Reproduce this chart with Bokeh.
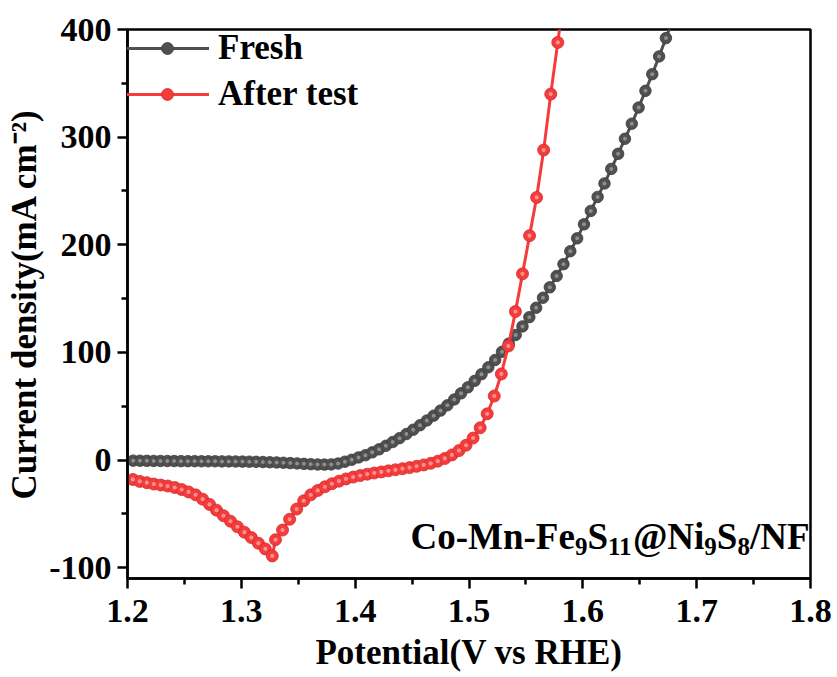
from bokeh.plotting import figure
from bokeh.models import (ColumnDataSource, FixedTicker, Legend, LegendItem, Range1d)
from bokeh.core.properties import value
from bokeh.embed import file_html
from bokeh.resources import INLINE

# LSV data: potential (V vs RHE) and current density (mA cm^-2)
potential_fresh = [
    1.205, 1.211, 1.217, 1.223, 1.229, 1.235, 1.241, 1.247, 1.253, 1.259,
    1.265, 1.271, 1.277, 1.283, 1.289, 1.295, 1.301, 1.307, 1.313, 1.319,
    1.325, 1.331, 1.337, 1.343, 1.349, 1.355, 1.361, 1.367, 1.373, 1.379,
    1.385, 1.391, 1.397, 1.403, 1.409, 1.415, 1.421, 1.427, 1.433, 1.439,
    1.445, 1.451, 1.457, 1.463, 1.469, 1.475, 1.481, 1.487, 1.493, 1.499,
    1.505, 1.511, 1.517, 1.523, 1.529, 1.535, 1.541, 1.547, 1.553, 1.559,
    1.565, 1.571, 1.577, 1.583, 1.589, 1.595, 1.601, 1.607, 1.613, 1.619,
    1.625, 1.631, 1.637, 1.643, 1.649, 1.655, 1.661, 1.667, 1.673, 1.679,
]
current_fresh = [
    -0.5, -0.6, -0.7, -0.8, -0.8, -0.9, -0.9, -1.0, -1.0, -1.0,
    -1.1, -1.1, -1.1, -1.2, -1.2, -1.3, -1.4, -1.5, -1.6, -1.8,
    -2.0, -2.2, -2.5, -2.8, -3.1, -3.5, -3.8, -4.1, -4.2, -4.0,
    -3.2, -1.5, 0.3, 2.5, 4.5, 7.2, 10.0, 13.3, 16.8, 20.4,
    24.2, 28.2, 32.4, 36.8, 41.3, 46.0, 50.9, 56.3, 62.0, 67.6,
    73.6, 79.8, 86.2, 93.0, 100.6, 108.2, 116.2, 124.2, 132.8, 141.5,
    150.8, 160.5, 171.0, 182.0, 194.0, 206.0, 219.0, 231.5, 244.5, 257.0,
    270.5, 284.5, 298.5, 312.5, 327.5, 343.0, 358.5, 375.0, 392.0, 409.0,
]

potential_after = [
    1.2047, 1.2108, 1.2170, 1.2231, 1.2292, 1.2353, 1.2415, 1.2476, 1.2537, 1.2598,
    1.2660, 1.2721, 1.2782, 1.2843, 1.2905, 1.2966, 1.3027, 1.3088, 1.3150, 1.3211,
    1.3272, 1.3300, 1.3362, 1.3424, 1.3486, 1.3548, 1.3610, 1.3672, 1.3734, 1.3796,
    1.3858, 1.3920, 1.3982, 1.4044, 1.4106, 1.4168, 1.4230, 1.4292, 1.4354, 1.4416,
    1.4478, 1.4540, 1.4602, 1.4664, 1.4726, 1.4788, 1.4850, 1.4912, 1.4974, 1.5036,
    1.5098, 1.5160, 1.5222, 1.5284, 1.5346, 1.5408, 1.5470, 1.5532, 1.5594, 1.5656,
    1.5718, 1.5780, 1.5842,
]
current_after = [
    -18.0, -19.8, -21.0, -22.3, -23.2, -24.1, -25.5, -27.4, -29.6, -32.3,
    -36.3, -41.2, -46.5, -51.7, -56.8, -62.0, -67.0, -72.0, -77.2, -82.5,
    -89.0, -74.0, -65.0, -55.0, -45.5, -37.8, -32.3, -28.2, -24.8, -22.0,
    -19.6, -17.5, -15.8, -14.4, -13.1, -12.0, -11.0, -10.0, -9.0, -8.0,
    -7.0, -5.8, -4.5, -3.0, -1.0, 1.5, 4.8, 8.8, 13.8, 20.5,
    30.0, 43.0, 59.5, 80.0, 106.0, 138.0, 173.0, 208.5, 244.0, 288.0,
    340.0, 388.0, 440.0,
]

series_labels = ["Fresh", "After test"]

x_ticks = [1.2, 1.3, 1.4, 1.5, 1.6, 1.7, 1.8]
x_tick_labels = ["1.2", "1.3", "1.4", "1.5", "1.6", "1.7", "1.8"]
x_minor = [1.25, 1.35, 1.45, 1.55, 1.65, 1.75]
y_ticks = [-100, 0, 100, 200, 300, 400]
y_tick_labels = ["-100", "0", "100", "200", "300", "400"]
y_minor = [-50, 50, 150, 250, 350]

# sample name, split into normal / subscript runs
name_runs = ["Co-Mn-Fe", "9", "S", "11", "@Ni", "9", "S", "8", "/NF"]
name_is_sub = [False, True, False, True, False, True, False, True, False]

SERIF = "Liberation Serif"
GRAY, GRAY_EDGE, GRAY_HI = "#505050", "#3a3a3a", "#8e8e8e"
RED, RED_EDGE, RED_HI = "#f43c3c", "#d62a2a", "#ff8f8f"

p = figure(width=837, height=677, x_range=Range1d(1.2, 1.8), y_range=Range1d(-110, 400),
           output_backend="svg", toolbar_location=None,
           min_border_left=127, min_border_right=27, min_border_top=29, min_border_bottom=99)
p.xgrid.visible = False
p.ygrid.visible = False
p.outline_line_color = "black"
p.outline_line_width = 2.5
p.background_fill_color = "white"
p.border_fill_color = "white"

fresh_src = ColumnDataSource(dict(x=potential_fresh, y=current_fresh))
after_src = ColumnDataSource(dict(x=potential_after, y=current_after))

gl = p.line("x", "y", source=fresh_src, line_color=GRAY, line_width=3)
gs = p.scatter("x", "y", source=fresh_src, size=11.5, fill_color=GRAY,
               line_color=GRAY_EDGE, line_width=0.8)
p.scatter("x", "y", source=fresh_src, size=4, fill_color=GRAY_HI, line_color=None)

rl = p.line("x", "y", source=after_src, line_color=RED, line_width=3)
rs = p.scatter("x", "y", source=after_src, size=12, fill_color=RED,
               line_color=RED_EDGE, line_width=0.8)
p.scatter("x", "y", source=after_src, size=4.2, fill_color=RED_HI, line_color=None)

# axes
for ax in (p.xaxis, p.yaxis):
    ax.axis_line_width = 2.5
    ax.major_tick_line_width = 2.5
    ax.minor_tick_line_width = 2.5
    ax.major_tick_out = 10
    ax.major_tick_in = 0
    ax.minor_tick_out = 6
    ax.minor_tick_in = 0
    ax.major_label_text_font = SERIF
    ax.major_label_text_font_style = "bold"
    ax.major_label_text_font_size = "34px"
    ax.major_label_text_color = "black"
    ax.axis_label_text_font = SERIF
    ax.axis_label_text_font_style = "bold"
    ax.axis_label_text_font_size = "35px"
    ax.axis_label_text_color = "black"

p.xaxis.ticker = FixedTicker(ticks=x_ticks, minor_ticks=x_minor)
p.xaxis.major_label_overrides = dict(zip(x_ticks, x_tick_labels))
p.yaxis.ticker = FixedTicker(ticks=y_ticks, minor_ticks=y_minor)
p.yaxis.major_label_overrides = dict(zip(y_ticks, y_tick_labels))
p.xaxis.axis_label = "Potential(V vs RHE)"
p.yaxis.axis_label = "Current density(mA cm\u207b\u00b2)"
p.xaxis.major_label_standoff = 11
p.yaxis.major_label_standoff = 6
p.xaxis.axis_label_standoff = 8
p.yaxis.axis_label_standoff = 2

# legend
legend = Legend(items=[LegendItem(label=series_labels[0], renderers=[gl, gs]),
                       LegendItem(label=series_labels[1], renderers=[rl, rs])],
                location=(-2, 464), glyph_width=84, glyph_height=30, label_height=39,
                spacing=6, label_standoff=9, padding=0, margin=0,
                border_line_alpha=0, background_fill_alpha=0,
                label_text_font=SERIF, label_text_font_style="bold",
                label_text_font_size="35px", label_text_color="black")
p.add_layout(legend)

# sample name with subscripts, laid out run by run (Times-Bold advance widths)
adv = {"C": 722, "o": 500, "-": 333, "M": 944, "n": 556, "F": 611, "e": 444,
       "S": 556, "@": 930, "N": 722, "i": 278, "/": 278}
MAIN_PX, SUB_PX, SUB_DROP = 37, 25, 10
offs, sizes, drops = [], [], []
cursor = 0.0
for run, sub in zip(name_runs, name_is_sub):
    px = SUB_PX if sub else MAIN_PX
    offs.append(cursor)
    sizes.append(f"{px}px")
    drops.append(SUB_DROP if sub else 0)
    cursor += sum(adv.get(ch, 500) for ch in run) / 1000 * px
name_src = ColumnDataSource(dict(x=[1.4486] * len(name_runs), y=[-71.0] * len(name_runs),
                                 text=name_runs, xo=offs, yo=drops, fs=sizes))
p.text("x", "y", text="text", source=name_src, x_offset="xo", y_offset="yo",
       text_font=value(SERIF), text_font_style="bold", text_font_size="fs",
       text_color="black", text_baseline="alphabetic", text_align="left")

open("out.html", "w").write(file_html(p, INLINE))
